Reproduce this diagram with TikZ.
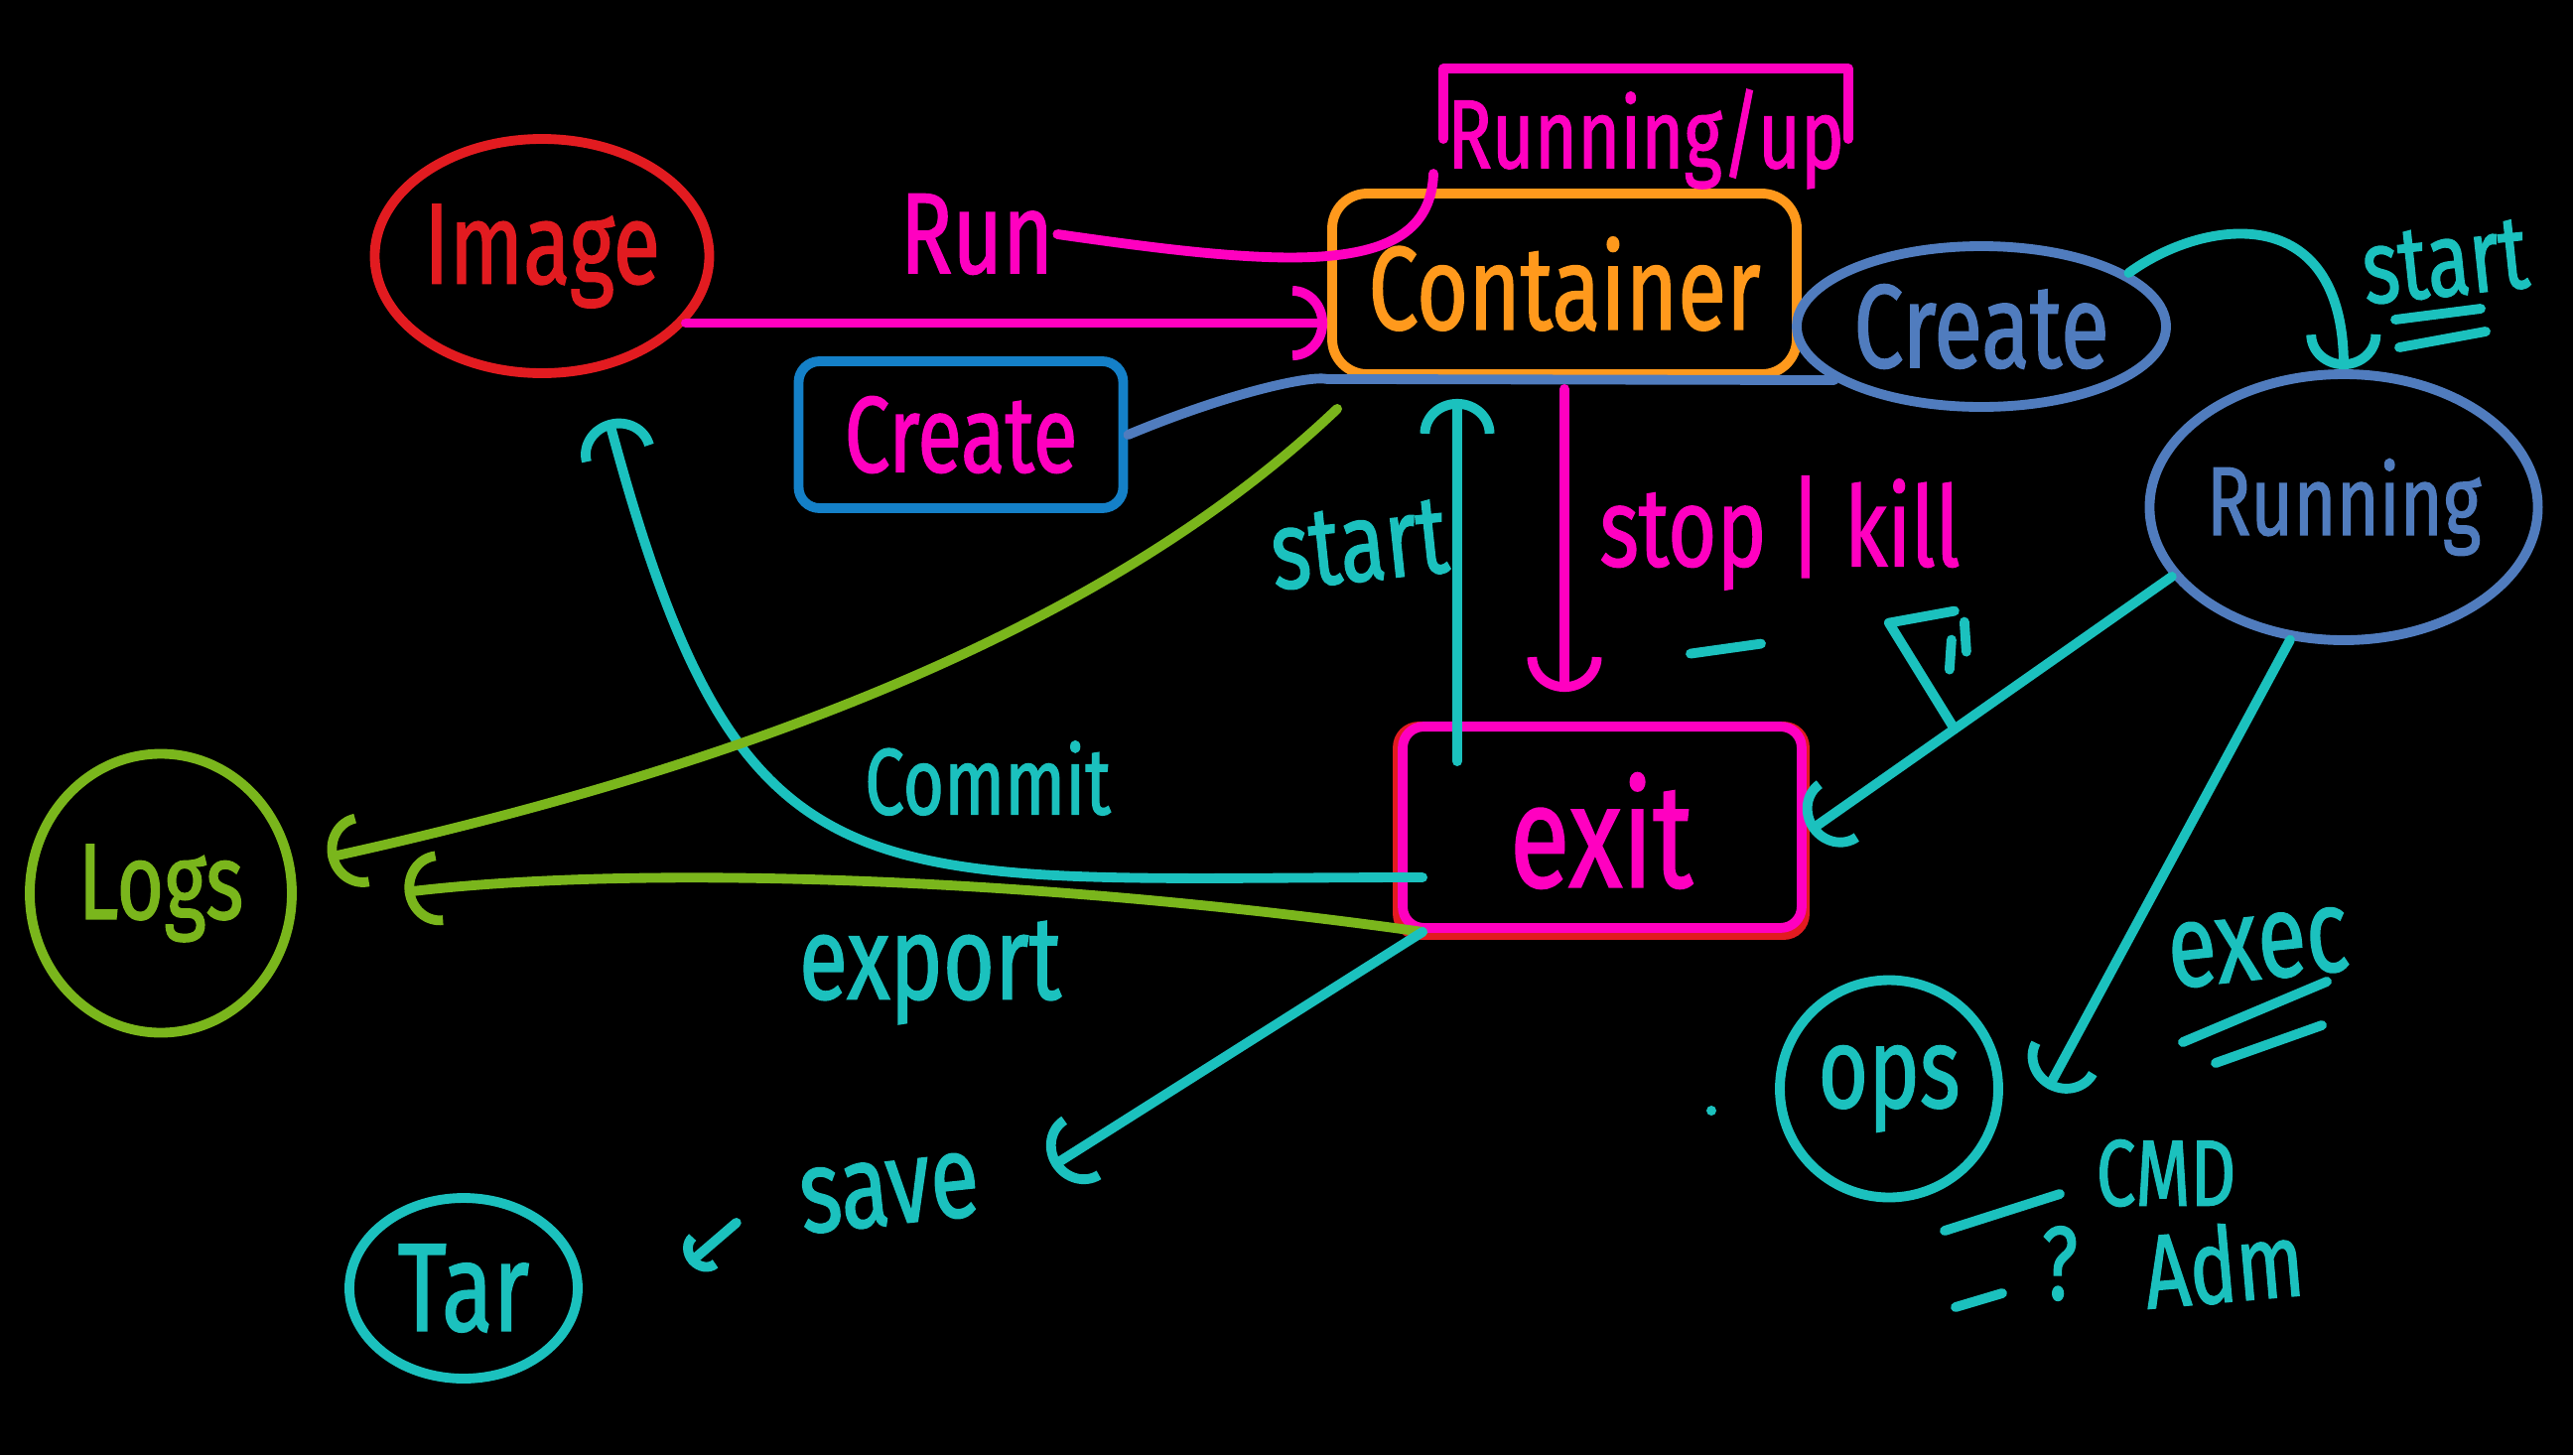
\documentclass[tikz,border=0pt]{standalone}
\usepackage{fontspec}
\setmainfont{Fira Sans}[FakeStretch=0.75, FakeBold=1.2]
\usepackage{tikz}
\usetikzlibrary{arrows.meta, positioning, shapes.geometric, calc}
\definecolor{inkmag}{RGB}{255, 0, 192}
\definecolor{inkred}{RGB}{226, 27, 32}
\definecolor{inkorange}{RGB}{255, 153, 28}
\definecolor{inkteal}{RGB}{27, 193, 190}
\definecolor{inksteel}{RGB}{80, 124, 190}
\definecolor{inkblue}{RGB}{20, 128, 200}
\definecolor{inkgreen}{RGB}{122, 182, 28}
\tikzset{
    ln/.style    ={line width=2.8pt, line cap=round, line join=round},
    ar/.style    ={ln, -{Arc Barb[length=3.5mm, width=7.5mm]}},
    arsm/.style  ={ln, -{Arc Barb[length=2mm, width=4.5mm]}},
    bubble/.style={draw, ellipse, line width=2.8pt, inner sep=0pt},
    box/.style   ={draw, rectangle, line width=2.8pt, rounded corners=6pt, inner sep=0pt},
    hw/.style    ={inner sep=1pt}
}
\newcommand{\hwsize}[1]{\fontsize{#1}{#1}\selectfont}

\begin{document}
\begin{tikzpicture}[x=1cm, y=1cm]

  % ---- canvas
  \useasboundingbox (0,0) rectangle (25.92,-14.66);
  \fill[black] (0,0) rectangle (25.92,-14.66);

  % ---- states
  \node[bubble, draw=inkred, text=inkred, minimum width=3.37cm, minimum height=2.36cm,
        font=\hwsize{33}] (img) at (5.46,-2.58) {Image};
  \node[box, draw=inkorange, text=inkorange, minimum width=4.68cm, minimum height=1.82cm,
        rounded corners=10pt, font=\hwsize{34}] (cont) at (15.76,-2.86) {Container};
  \node[hw, text=inkmag, minimum width=3.84cm, minimum height=1.4cm,
        font=\hwsize{28}] (runup) at (16.58,-1.4) {Running/up};
  \node[box, draw=inkblue, text=inkmag, minimum width=3.27cm, minimum height=1.48cm,
        font=\hwsize{31}] (cbox) at (9.68,-4.38) {Create};
  \node[bubble, draw=inksteel, text=inksteel, minimum width=3.72cm, minimum height=1.62cm,
        font=\hwsize{34}] (crt) at (19.96,-3.29) {Create};
  \node[bubble, draw=inksteel, text=inksteel, minimum width=3.09cm, minimum height=2.68cm,
        font=\hwsize{28}] (run) at (23.61,-5.11) {Running};
  \node[box, draw=inkred, text=inkmag, minimum width=4.1cm, minimum height=2.1cm,
        font=\hwsize{42}] (ex) at (16.13,-8.37) {exit};
  \node[bubble, draw=inkgreen, text=inkgreen, minimum width=2.64cm, minimum height=2.81cm,
        font=\hwsize{31}] (logs) at (1.62,-9.0) {Logs};
  \node[bubble, draw=inkteal, text=inkteal, minimum width=2.3cm, minimum height=1.82cm,
        font=\hwsize{36}] (tar) at (4.67,-12.98) {Tar};
  \node[bubble, draw=inkteal, text=inkteal, minimum width=2.2cm, minimum height=2.19cm,
        font=\hwsize{33}] (ops) at (19.03,-10.97) {ops};

  % second outline of exit and bracket over running/up
  \draw[ln, inkmag, rounded corners=6pt] ([shift={(0.1,0.12)}]ex.south west)
       rectangle ([shift={(-0.08,-0.05)}]ex.north east);
  \draw[ln, inkmag] (runup.west) |- (runup.north) -| (runup.east);

  % ---- labels
  \node[hw, text=inkmag, font=\hwsize{33}] (lrun) at (9.84,-2.36) {Run};
  \node[hw, text=inkmag, font=\hwsize{32}] (lstop) at (17.93,-5.37) {stop | kill};
  \node[hw, text=inkteal, font=\hwsize{32}, rotate=6] (lstart) at (13.69,-5.49) {start};
  \node[hw, text=inkteal, font=\hwsize{30}, rotate=6] (lstart2) at (24.63,-2.64) {start};
  \node[hw, text=inkteal, font=\hwsize{27}] (lcommit) at (9.95,-7.84) {Commit};
  \node[hw, text=inkteal, font=\hwsize{34}] (lexport) at (9.37,-9.8) {export};
  \node[hw, text=inkteal, font=\hwsize{34}, rotate=6] (lsave) at (8.96,-12.02) {save};
  \node[hw, text=inkteal, font=\hwsize{34}, rotate=6] (lexec) at (22.75,-9.55) {exec};
  \node[hw, text=inkteal, font=\hwsize{27}] (lcmd) at (21.82,-11.82) {CMD};
  \node[hw, text=inkteal, font=\hwsize{30}] (lq) at (20.75,-12.73) {?};
  \node[hw, text=inkteal, font=\hwsize{30}, rotate=5] (ladm) at (22.4,-12.73) {Adm};

  \coordinate (savetip) at (10.6,-11.75);
  \coordinate (tarend) at (6.94,-12.73);

  % ---- run / create
  \draw[ln, inkmag] (lrun.east) .. controls (13.0,-2.7) and (14.4,-2.8)
       .. ([xshift=-1mm, yshift=-3.5mm]runup.west);
  \draw[ar, inkmag] (img.-25) -- (img.-25 -| cont.west);
  \draw[ln, inksteel] (cbox.east) .. controls (12.4,-3.95) and (13.2,-3.78)
       .. (cont.south west) -- (crt.200);
  \draw[ar, inkteal] (crt.20) .. controls (22.2,-2.2) and (23.6,-2.0) .. (run.north);

  % ---- container <-> exit
  \draw[ar, inkmag, shorten <=1mm, shorten >=3mm] (cont.south) -- (cont.south |- ex.north);
  \draw[ar, inkteal, shorten >=2mm] ([xshift=-1.45cm, yshift=-4mm]ex.north)
       -- ([xshift=-1.45cm]ex.north |- cont.south);
  \draw[ar, inkteal] (run.202) -- (ex.east);
  \draw[ln, inkteal] ($(run.202)!0.6!(ex.east)$) -- ++(-0.66,1.07) -- ++(0.66,0.12);
  \draw[ln, inkteal] ($(run.202)!0.6!(ex.east)+(-0.05,0.6)$) -- ++(0.02,0.3);
  \draw[ln, inkteal] ($(run.202)!0.6!(ex.east)+(0.12,0.78)$) -- ++(-0.02,0.3);
  \draw[ln, inkteal] ($(lstop.south)+(-0.9,-0.6)$) -- ++(0.71,0.1);

  % ---- exit to image, logs, tar
  \draw[ar, inkteal, shorten >=5mm] ([xshift=3mm, yshift=-4.7mm]ex.west)
       to[out=180, in=-75, looseness=1.5] (img.-65);
  \draw[ar, inkgreen, shorten >=3.5mm] ([xshift=1mm, yshift=-3mm]cont.south west)
       .. controls (11.6,-5.9) and (8.5,-7.5) .. (logs.12);
  \draw[ar, inkgreen, shorten >=11mm] ([xshift=3mm, yshift=0.8mm]ex.south west)
       .. controls (10.5,-8.85) and (6.5,-8.7) .. (logs.-5);
  \draw[ar, inkteal] ([xshift=3mm, yshift=0.8mm]ex.south west) -- (savetip);
  \draw[arsm, inkteal] ([xshift=-6mm, yshift=-2mm]lsave.west) -- (tarend);

  % ---- exec
  \draw[ar, inkteal] (run.-112) -- ([xshift=4.5mm]ops.east);
  \draw[ln, inkteal] ($(lexec)+(-0.76,-0.95)$) -- ++(1.45,0.61);
  \draw[ln, inkteal] ($(lexec)+(-0.43,-1.16)$) -- ++(1.07,0.38);
  \draw[ln, inkteal] ($(lstart2)+(-0.5,-0.58)$) -- ++(0.86,0.11);
  \draw[ln, inkteal] ($(lstart2)+(-0.46,-0.86)$) -- ++(0.87,0.16);
  \draw[ln, inkteal] ($(lcmd)+(-2.23,-0.58)$) -- ++(1.16,0.37);
  \draw[ln, inkteal] ($(lq)+(-1.05,-0.44)$) -- ++(0.47,0.14);
  \fill[inkteal] (17.24,-11.19) circle (0.05);
\end{tikzpicture}
\end{document}
